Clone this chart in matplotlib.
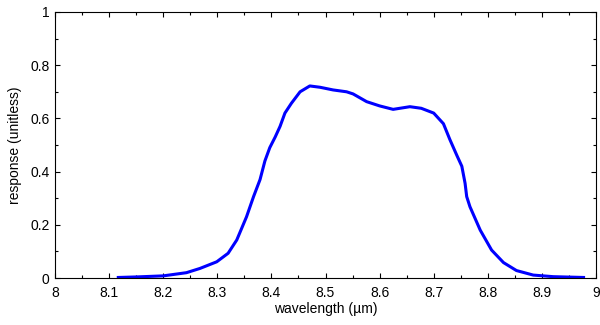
import matplotlib
matplotlib.use("Agg")
import matplotlib.pyplot as plt
from matplotlib.ticker import MultipleLocator, FuncFormatter

wavelength = [8.117, 8.15, 8.2, 8.243, 8.268, 8.299, 8.32, 8.336, 8.354, 8.367, 8.379,
              8.388, 8.397, 8.407, 8.416, 8.425, 8.437, 8.453, 8.471, 8.49, 8.514, 8.539,
              8.551, 8.576, 8.60, 8.625, 8.656, 8.677, 8.70, 8.718, 8.73, 8.743,
              8.752, 8.758, 8.761, 8.767, 8.786, 8.807, 8.829, 8.853, 8.884, 8.921, 8.977]
response = [0.002, 0.004, 0.008, 0.02, 0.036, 0.061, 0.093, 0.143, 0.23, 0.306, 0.37,
            0.44, 0.49, 0.53, 0.57, 0.62, 0.657, 0.70, 0.722, 0.717, 0.707, 0.70,
            0.692, 0.663, 0.647, 0.634, 0.644, 0.638, 0.62, 0.58, 0.52, 0.46,
            0.42, 0.356, 0.306, 0.268, 0.18, 0.105, 0.058, 0.028, 0.011, 0.005, 0.002]

plt.rcParams['font.family'] = ['Liberation Sans', 'DejaVu Sans']

fig = plt.figure(figsize=(6, 3.25), dpi=100)
ax = fig.add_axes([55/600, 47/325, 541/600, 266/325])
ax.plot(wavelength, response, color='#0000ff', linewidth=2.2)
ax.set_xlim(8, 9)
ax.set_ylim(0, 1)
ax.xaxis.set_major_locator(MultipleLocator(0.1))
ax.xaxis.set_minor_locator(MultipleLocator(0.05))
ax.yaxis.set_major_locator(MultipleLocator(0.2))
ax.yaxis.set_minor_locator(MultipleLocator(0.1))
fmt = FuncFormatter(lambda v, p: f"{v:.1f}".rstrip('0').rstrip('.'))
ax.xaxis.set_major_formatter(fmt)
ax.yaxis.set_major_formatter(fmt)
ax.tick_params(which='both', direction='in', top=True, right=True, width=0.8,
               labelsize=10, colors='black')
ax.tick_params(which='major', length=3.6)
ax.tick_params(which='minor', length=2.2)
ax.tick_params(axis='x', pad=6)
ax.tick_params(axis='y', pad=4)
for s in ax.spines.values():
    s.set_linewidth(0.8)
ax.set_xlabel('wavelength (µm)', fontsize=10, labelpad=1)
ax.set_ylabel('response (unitless)', fontsize=10, labelpad=6)
fig.savefig('out.png', dpi=100)
